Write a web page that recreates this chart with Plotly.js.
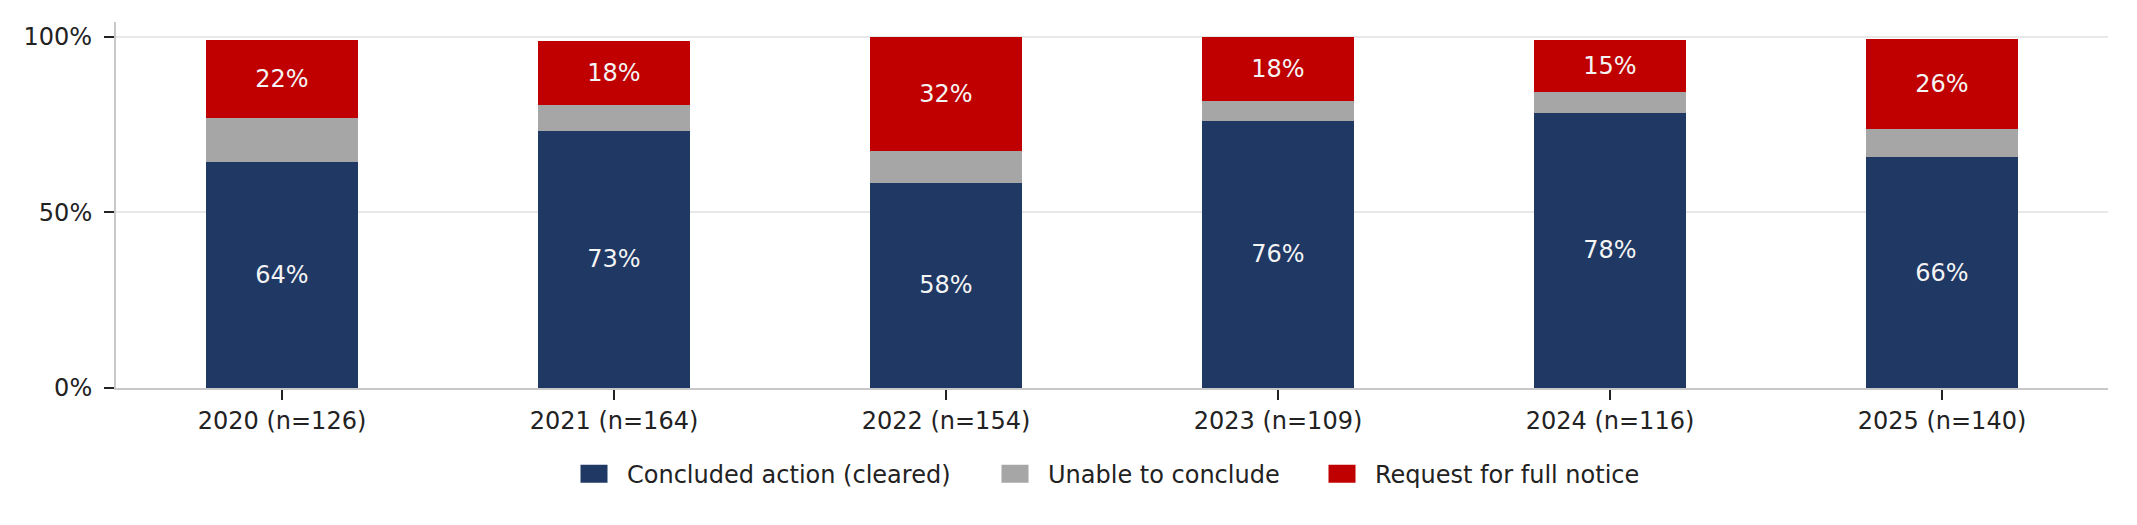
<!DOCTYPE html>
<html>
<head>
<meta charset="utf-8">
<script src="https://cdn.plot.ly/plotly-3.0.1.min.js"></script>
<style>
  html, body { margin: 0; padding: 0; background: #fff; }
  #chart { width: 2137px; height: 525px; }
</style>
</head>
<body>
<div id="chart"></div>
<script>
// categories and shares (percent of cases per year)
const years = ["2020 (n=126)", "2021 (n=164)", "2022 (n=154)", "2023 (n=109)", "2024 (n=116)", "2025 (n=140)"];
const concluded = [64.3, 73.2, 58.4, 76.1, 78.4, 65.7];
const unable = [12.7, 7.3, 9.1, 5.5, 6.0, 7.9];
const fullNotice = [22.2, 18.3, 32.4, 18.3, 14.7, 25.7];

const seriesNames = ["Concluded action (cleared)", "Unable to conclude", "Request for full notice"];
const seriesColors = ["#1f3864", "#a6a6a6", "#c00000"];

const fontFamily = "DejaVu Sans, sans-serif";
const fontSize = 24;

function labelsFor(values) {
  // rounded percent labels for inside the bar segments
  return values.map(v => Math.round(v) + "%");
}

function makeTrace(name, values, color, showLabels, legendId) {
  return {
    type: "bar",
    name: name,
    legend: legendId,
    x: years,
    y: values,
    marker: { color: color },
    text: showLabels ? labelsFor(values) : values.map(() => ""),
    textposition: showLabels ? "inside" : "none",
    insidetextanchor: "middle",
    textangle: 0,
    constraintext: "none",
    textfont: { family: fontFamily, size: fontSize, color: "#f4f4f4" },
    hovertemplate: "%{x}<br>" + name + ": %{y:.1f}%<extra></extra>"
  };
}

const data = [
  makeTrace(seriesNames[0], concluded, seriesColors[0], true, "legend"),
  makeTrace(seriesNames[1], unable, seriesColors[1], false, "legend2"),
  makeTrace(seriesNames[2], fullNotice, seriesColors[2], true, "legend3")
];

// one legend per series so the entries can be spaced like the original
function legendAt(x) {
  return {
    orientation: "h",
    xref: "container",
    yref: "container",
    x: x,
    xanchor: "left",
    y: 0.097,
    yanchor: "middle",
    itemwidth: 56,
    bgcolor: "rgba(0,0,0,0)",
    font: { family: fontFamily, size: fontSize, color: "#222222" }
  };
}

const layout = {
  width: 2137,
  height: 525,
  margin: { l: 116, r: 29, t: 22, b: 137 },
  paper_bgcolor: "#ffffff",
  plot_bgcolor: "#ffffff",
  barmode: "stack",
  bargap: 0.54,
  font: { family: fontFamily, size: fontSize, color: "#222222" },
  showlegend: true,
  legend: legendAt(561 / 2137),
  legend2: legendAt(982 / 2137),
  legend3: legendAt(1309 / 2137),
  xaxis: {
    type: "category",
    range: [-0.5, 5.5],
    showline: true,
    linecolor: "#c8c8c8",
    linewidth: 2,
    ticks: "outside",
    ticklen: 10,
    tickwidth: 2,
    tickcolor: "#222222",
    showgrid: false,
    zeroline: false,
    tickfont: { family: fontFamily, size: fontSize, color: "#222222" }
  },
  yaxis: {
    range: [0, 104.2],
    tickvals: [0, 50, 100],
    ticktext: ["0%", "50%", "100%"],
    showline: true,
    linecolor: "#c8c8c8",
    linewidth: 2,
    ticks: "outside",
    ticklen: 10,
    tickwidth: 2,
    tickcolor: "#222222",
    ticklabelstandoff: 7,
    showgrid: true,
    gridcolor: "#e8e8e8",
    gridwidth: 2,
    zeroline: false,
    tickfont: { family: fontFamily, size: fontSize, color: "#222222" }
  }
};

const chartElem = document.getElementById("chart");
Plotly.newPlot(chartElem, data, layout, { displayModeBar: false, staticPlot: true }).then(function() {
  // legend swatches in the original are wider rectangles than plotly's default square
  chartElem.querySelectorAll(".legendpoints path").forEach(function(p) {
    p.setAttribute("d", "M13.5,9H-13.5V-9H13.5Z");
  });
});
</script>
</body>
</html>
